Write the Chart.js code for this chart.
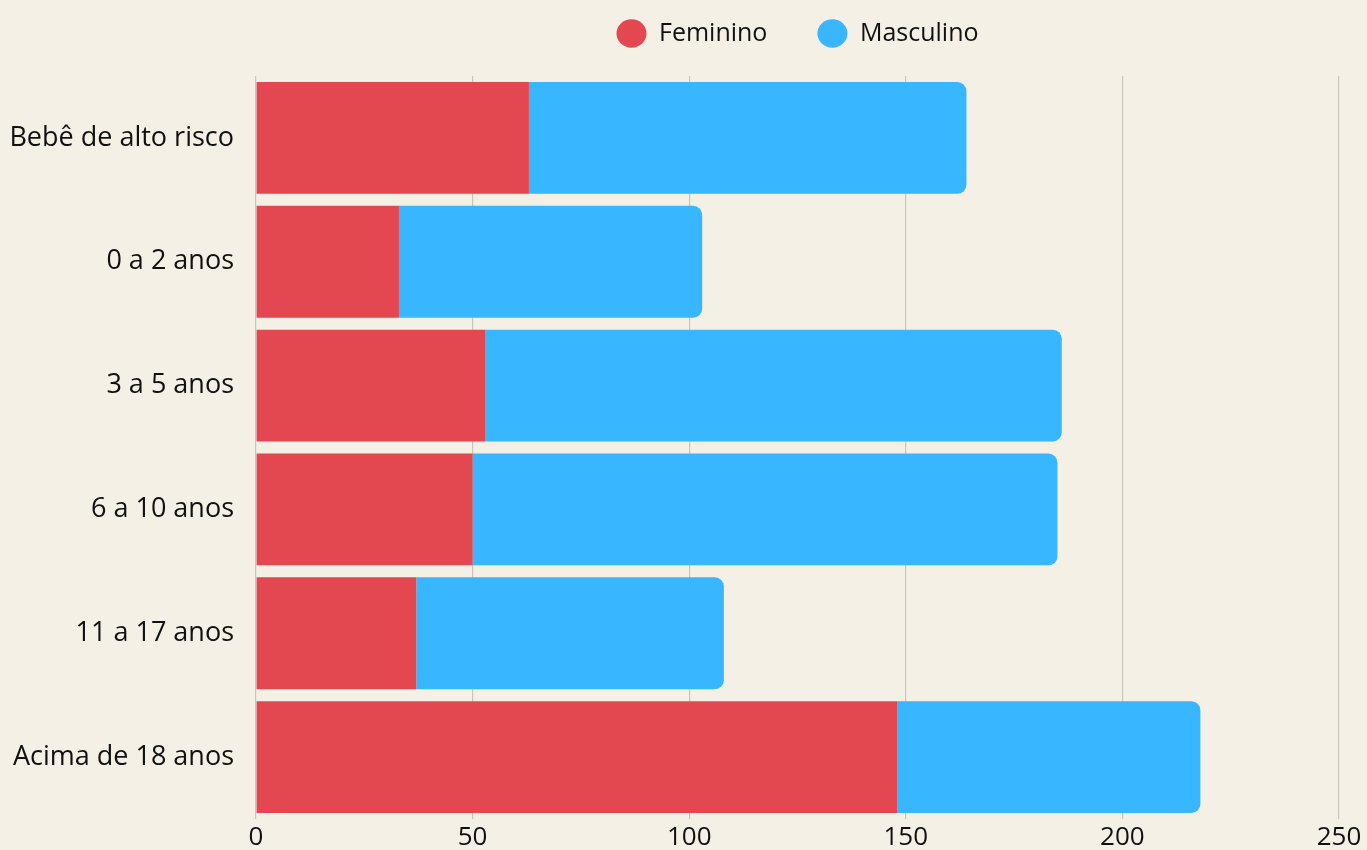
<!DOCTYPE html>
<html>
<head>
<meta charset="utf-8">
<script src="https://cdn.jsdelivr.net/npm/chart.js@4.4.0/dist/chart.umd.min.js"></script>
<style>
html,body{margin:0;padding:0;background:#f4f0e6;}
#wrap{width:1367px;height:850px;}
</style>
</head>
<body>
<div id="wrap"><canvas id="c" width="1367" height="850"></canvas></div>
<script>
const categories = ["Bebê de alto risco", "0 a 2 anos", "3 a 5 anos", "6 a 10 anos", "11 a 17 anos", "Acima de 18 anos"];
const feminino = [63, 33, 53, 50, 37, 148];
const masculino = [101, 70, 133, 135, 71, 70];
const seriesNames = ["Feminino", "Masculino"];
const xTicks = [0, 50, 100, 150, 200, 250];

const FONT = "Open Sans";
new Chart(document.getElementById('c'), {
  type: 'bar',
  data: {
    labels: categories,
    datasets: [
      {label: seriesNames[0], data: feminino, backgroundColor: '#e3474f', borderRadius: 0, barPercentage: 1, categoryPercentage: 112/124},
      {label: seriesNames[1], data: masculino, backgroundColor: '#38b6ff', borderRadius: 9, borderSkipped: 'start', barPercentage: 1, categoryPercentage: 112/124}
    ]
  },
  options: {
    indexAxis: 'y',
    responsive: false,
    animation: false,
    layout: {padding: {left: 0, right: 28, top: -29, bottom: 0}},
    plugins: {
      legend: {
        position: 'top',
        fullSize: false,
        maxHeight: 108,
        labels: {usePointStyle: true, pointStyle: 'circle', boxWidth: 28, boxHeight: 20, pointStyleWidth: 30, padding: 50,
          color: '#111', font: {family: FONT, size: 25}},
      },
      tooltip: {enabled: false}
    },
    scales: {
      x: {
        stacked: true, min: 0, max: 250,
        afterBuildTicks: (s) => { s.ticks = xTicks.map(v => ({value: v})); },
        grid: {color: '#c9c5ba', lineWidth: 1.2, drawTicks: false},
        border: {display: false},
        ticks: {color: '#111', font: {family: FONT, size: 26}, padding: 3, maxRotation: 0},
        afterFit: (s) => { s.height = 31; }
      },
      xTop: {
        type: 'linear', position: 'top', display: true, min: 0, max: 250,
        grid: {display: false, drawTicks: false},
        border: {display: false},
        ticks: {display: false},
        afterFit: (s) => { s.height = 20; }
      },
      y: {
        stacked: true,
        grid: {display: false, drawTicks: false},
        border: {display: false},
        ticks: {color: '#111', font: {family: FONT, size: 27, lineHeight: 0.3}, padding: 22},
        afterFit: (s) => { s.width = 256; }
      }
    }
  }
});
</script>
</body>
</html>
